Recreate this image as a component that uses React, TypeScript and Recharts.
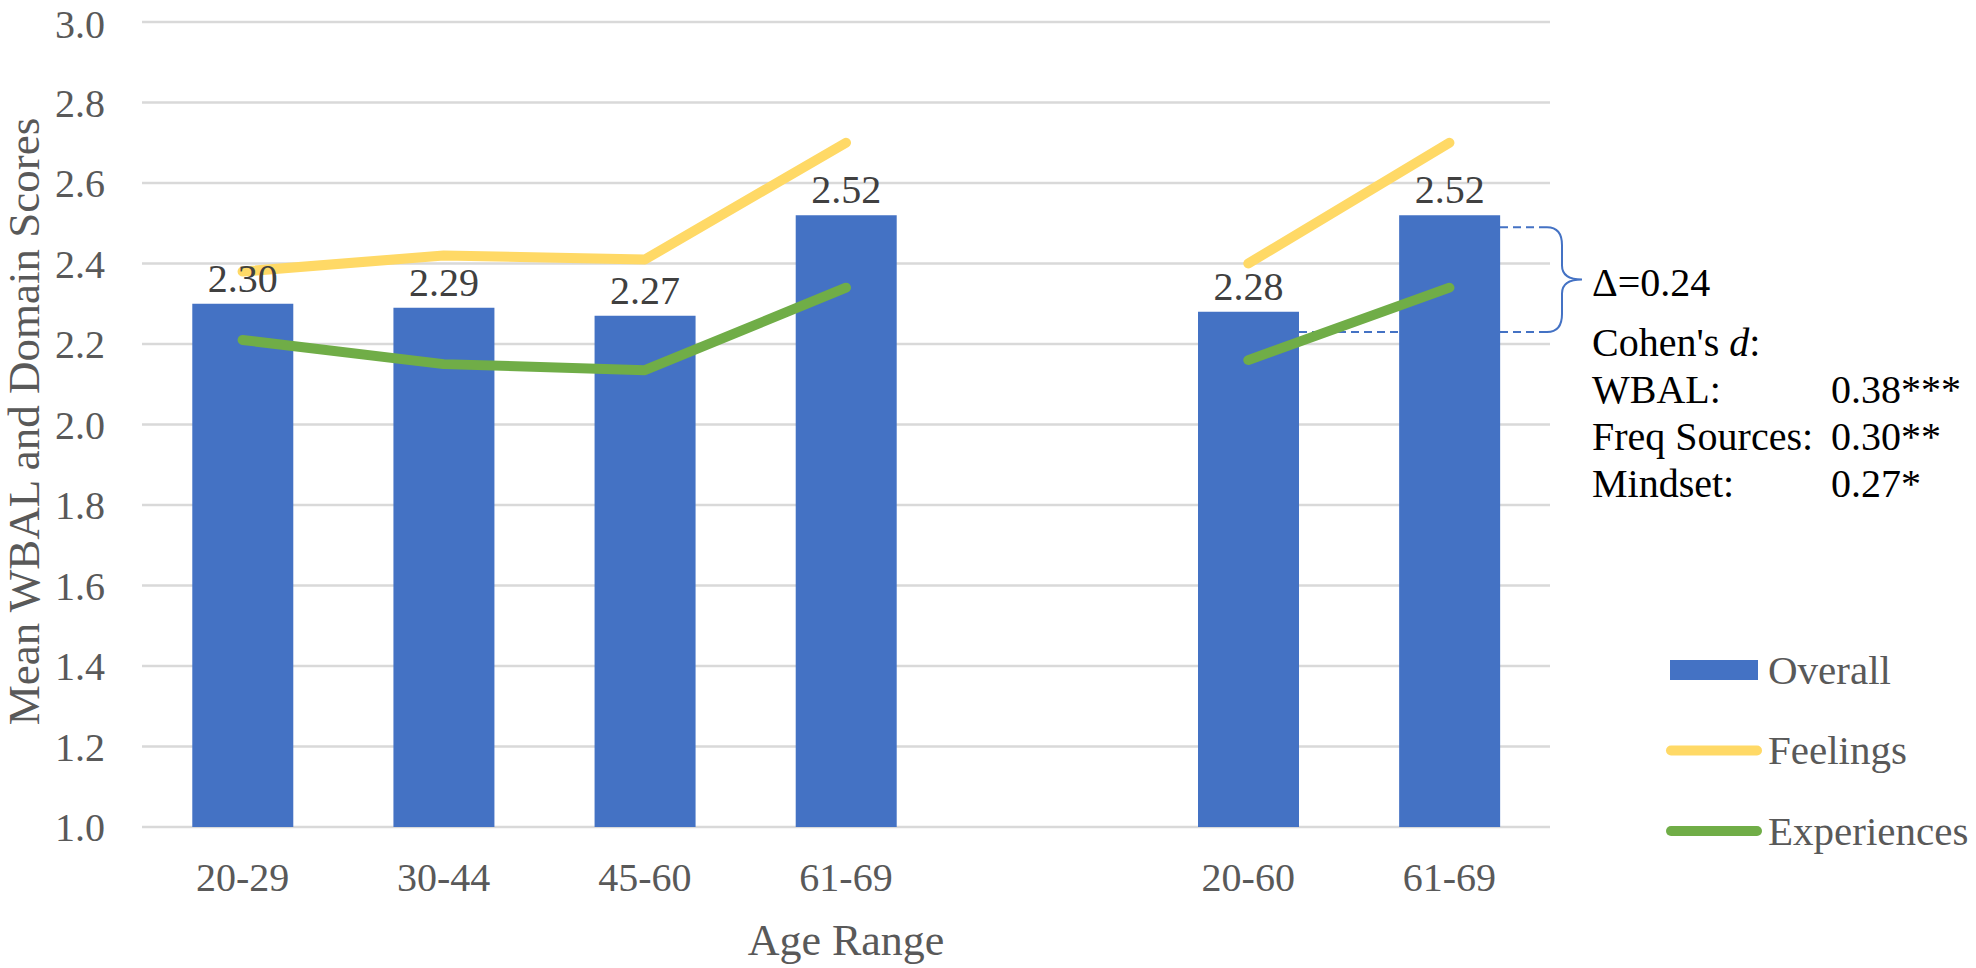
import React from 'react';
import {
  ComposedChart,
  Bar,
  Line,
  XAxis,
  YAxis,
  CartesianGrid,
  Legend,
  LabelList,
  Label,
  ReferenceArea,
} from 'recharts';

// ---- data ----
const categories = ['20-29', '30-44', '45-60', '61-69', '', '20-60', '61-69'];
const overall = [2.3, 2.29, 2.27, 2.52, null, 2.28, 2.52];
const feelings = [2.38, 2.42, 2.41, 2.7, null, 2.4, 2.7];
const experiences = [2.21, 2.15, 2.135, 2.34, null, 2.16, 2.34];
const yTicks = [1.0, 1.2, 1.4, 1.6, 1.8, 2.0, 2.2, 2.4, 2.6, 2.8, 3.0];

const seriesNames = ['Overall', 'Feelings', 'Experiences'];
const deltaRange = [2.23, 2.49];
const deltaText = 'Δ=0.24';
const cohenRows = [
  { label: 'WBAL:', value: '0.38***' },
  { label: 'Freq Sources:', value: '0.30**' },
  { label: 'Mindset:', value: '0.27*' },
];

const data = categories.map((c, i) => ({
  category: c,
  overall: overall[i],
  feelings: feelings[i],
  experiences: experiences[i],
}));

// ---- style ----
const FONT = '"Liberation Serif", "Times New Roman", serif';
const BLUE = '#4472C4';
const YELLOW = '#FFD966';
const GREEN = '#70AD47';
const GRID = '#D9D9D9';
const TICK = '#595959';

const YTitle = (props: any) => {
  const vb = props.viewBox || { x: 0, y: 0, width: 0, height: 0 };
  const cx = vb.x + 39;
  const cy = vb.y + vb.height / 2 - 3;
  return (
    <text
      x={cx}
      y={cy}
      transform={`rotate(-90, ${cx}, ${cy})`}
      textAnchor="middle"
      fontFamily={FONT}
      fontSize={45}
      fill={TICK}
    >
      Mean WBAL and Domain Scores
    </text>
  );
};

const XTitle = (props: any) => {
  const vb = props.viewBox || { x: 0, y: 0, width: 0, height: 0 };
  return (
    <text
      x={vb.x + vb.width / 2}
      y={vb.y + 128}
      textAnchor="middle"
      fontFamily={FONT}
      fontSize={44}
      fill={TICK}
    >
      Age Range
    </text>
  );
};

const renderLegend = (props: any) => {
  const payload = props.payload || [];
  const fallback: Record<string, string> = { Overall: BLUE, Feelings: YELLOW, Experiences: GREEN };
  const colorOf = (name: string) => {
    const e = payload.find((p: any) => p.value === name);
    return (e && e.color) || fallback[name];
  };
  return (
    <svg width={320} height={240} style={{ overflow: 'visible' }}>
      {seriesNames.map((name, i) => {
        const cy = 50 + 80.5 * i;
        const color = colorOf(name);
        return (
          <g key={name}>
            {i === 0 ? (
              <rect x={10} y={cy - 10} width={88} height={20} fill={color} />
            ) : (
              <line x1={11} x2={97} y1={cy} y2={cy} stroke={color} strokeWidth={10} strokeLinecap="round" />
            )}
            <text x={108} y={cy} dy="0.33em" fontFamily={FONT} fontSize={41} fill={TICK}>
              {name}
            </text>
          </g>
        );
      })}
    </svg>
  );
};

const DeltaAnnotation = (props: any) => {
  const { x, y, width, height } = props;
  const xr = x + width;
  const yt = y;
  const yb = y + height;
  const ym = (yt + yb) / 2;
  const bx = xr + 12;
  const brace = `M ${xr - 3} ${yt} Q ${bx} ${yt} ${bx} ${yt + 18} L ${bx} ${ym - 14} Q ${bx} ${ym} ${bx + 20} ${ym} Q ${bx} ${ym} ${bx} ${ym + 14} L ${bx} ${yb - 18} Q ${bx} ${yb} ${xr - 3} ${yb}`;
  const tx = xr + 42;
  const vx = xr + 281;
  return (
    <g>
      <line x1={xr - 50} x2={xr - 3} y1={yt} y2={yt} stroke={BLUE} strokeWidth={2} strokeDasharray="8 5" />
      <line x1={xr - 251} x2={xr - 150} y1={yb} y2={yb} stroke={BLUE} strokeWidth={2} strokeDasharray="8 5" />
      <line x1={xr - 50} x2={xr - 3} y1={yb} y2={yb} stroke={BLUE} strokeWidth={2} strokeDasharray="8 5" />
      <path d={brace} fill="none" stroke={BLUE} strokeWidth={2} />
      <g fontFamily={FONT} fontSize={40} fill="#000">
        <text x={tx} y={ym + 16}>{deltaText}</text>
        <text x={tx} y={ym + 76}>
          <tspan>Cohen's </tspan>
          <tspan fontStyle="italic">d</tspan>
          <tspan>:</tspan>
        </text>
        {cohenRows.map((r, i) => (
          <g key={r.label}>
            <text x={tx} y={ym + 123 + 47 * i}>{r.label}</text>
            <text x={vx} y={ym + 123 + 47 * i}>{r.value}</text>
          </g>
        ))}
      </g>
    </g>
  );
};

export default function App() {
  return (
    <div style={{ position: 'absolute', left: 0, top: 0, width: 1976, height: 968, background: '#fff' }}>
      <ComposedChart
        width={1976}
        height={968}
        data={data}
        margin={{ top: 22, right: 426, bottom: 0, left: 0 }}
        barCategoryGap="25%"
      >
        <CartesianGrid vertical={false} stroke={GRID} strokeWidth={2.5} />
        <XAxis
          dataKey="category"
          height={141}
          axisLine={false}
          tickLine={false}
          tickSize={0}
          tickMargin={36}
          interval={0}
          tick={{ fontFamily: FONT, fontSize: 40, fill: TICK }}
        >
          <Label content={XTitle} />
        </XAxis>
        <YAxis
          type="number"
          domain={[1, 3]}
          ticks={yTicks}
          width={142}
          axisLine={false}
          tickLine={false}
          tickSize={0}
          tickMargin={37}
          tickFormatter={(v: number) => v.toFixed(1)}
          tick={{ fontFamily: FONT, fontSize: 40, fill: TICK }}
        >
          <Label content={YTitle} />
        </YAxis>
        <Bar dataKey="overall" name="Overall" fill={BLUE} isAnimationActive={false}>
          <LabelList
            dataKey="overall"
            position="top"
            offset={12}
            formatter={(v: any) => (v == null ? '' : Number(v).toFixed(2))}
            style={{ fontFamily: FONT, fontSize: 40, fill: '#404040' }}
          />
        </Bar>
        <Line
          type="linear"
          dataKey="feelings"
          name="Feelings"
          stroke={YELLOW}
          strokeWidth={10}
          strokeLinecap="round"
          strokeLinejoin="round"
          dot={false}
          activeDot={false}
          connectNulls={false}
          isAnimationActive={false}
        />
        <Line
          type="linear"
          dataKey="experiences"
          name="Experiences"
          stroke={GREEN}
          strokeWidth={10}
          strokeLinecap="round"
          strokeLinejoin="round"
          dot={false}
          activeDot={false}
          connectNulls={false}
          isAnimationActive={false}
        />
        <ReferenceArea
          y1={deltaRange[0]}
          y2={deltaRange[1]}
          ifOverflow="visible"
          shape={DeltaAnnotation}
        />
        <Legend
          layout="vertical"
          align="center"
          verticalAlign="middle"
          content={renderLegend}
          wrapperStyle={{ left: 1660, top: 620, width: 320, height: 240 }}
        />
      </ComposedChart>
    </div>
  );
}
